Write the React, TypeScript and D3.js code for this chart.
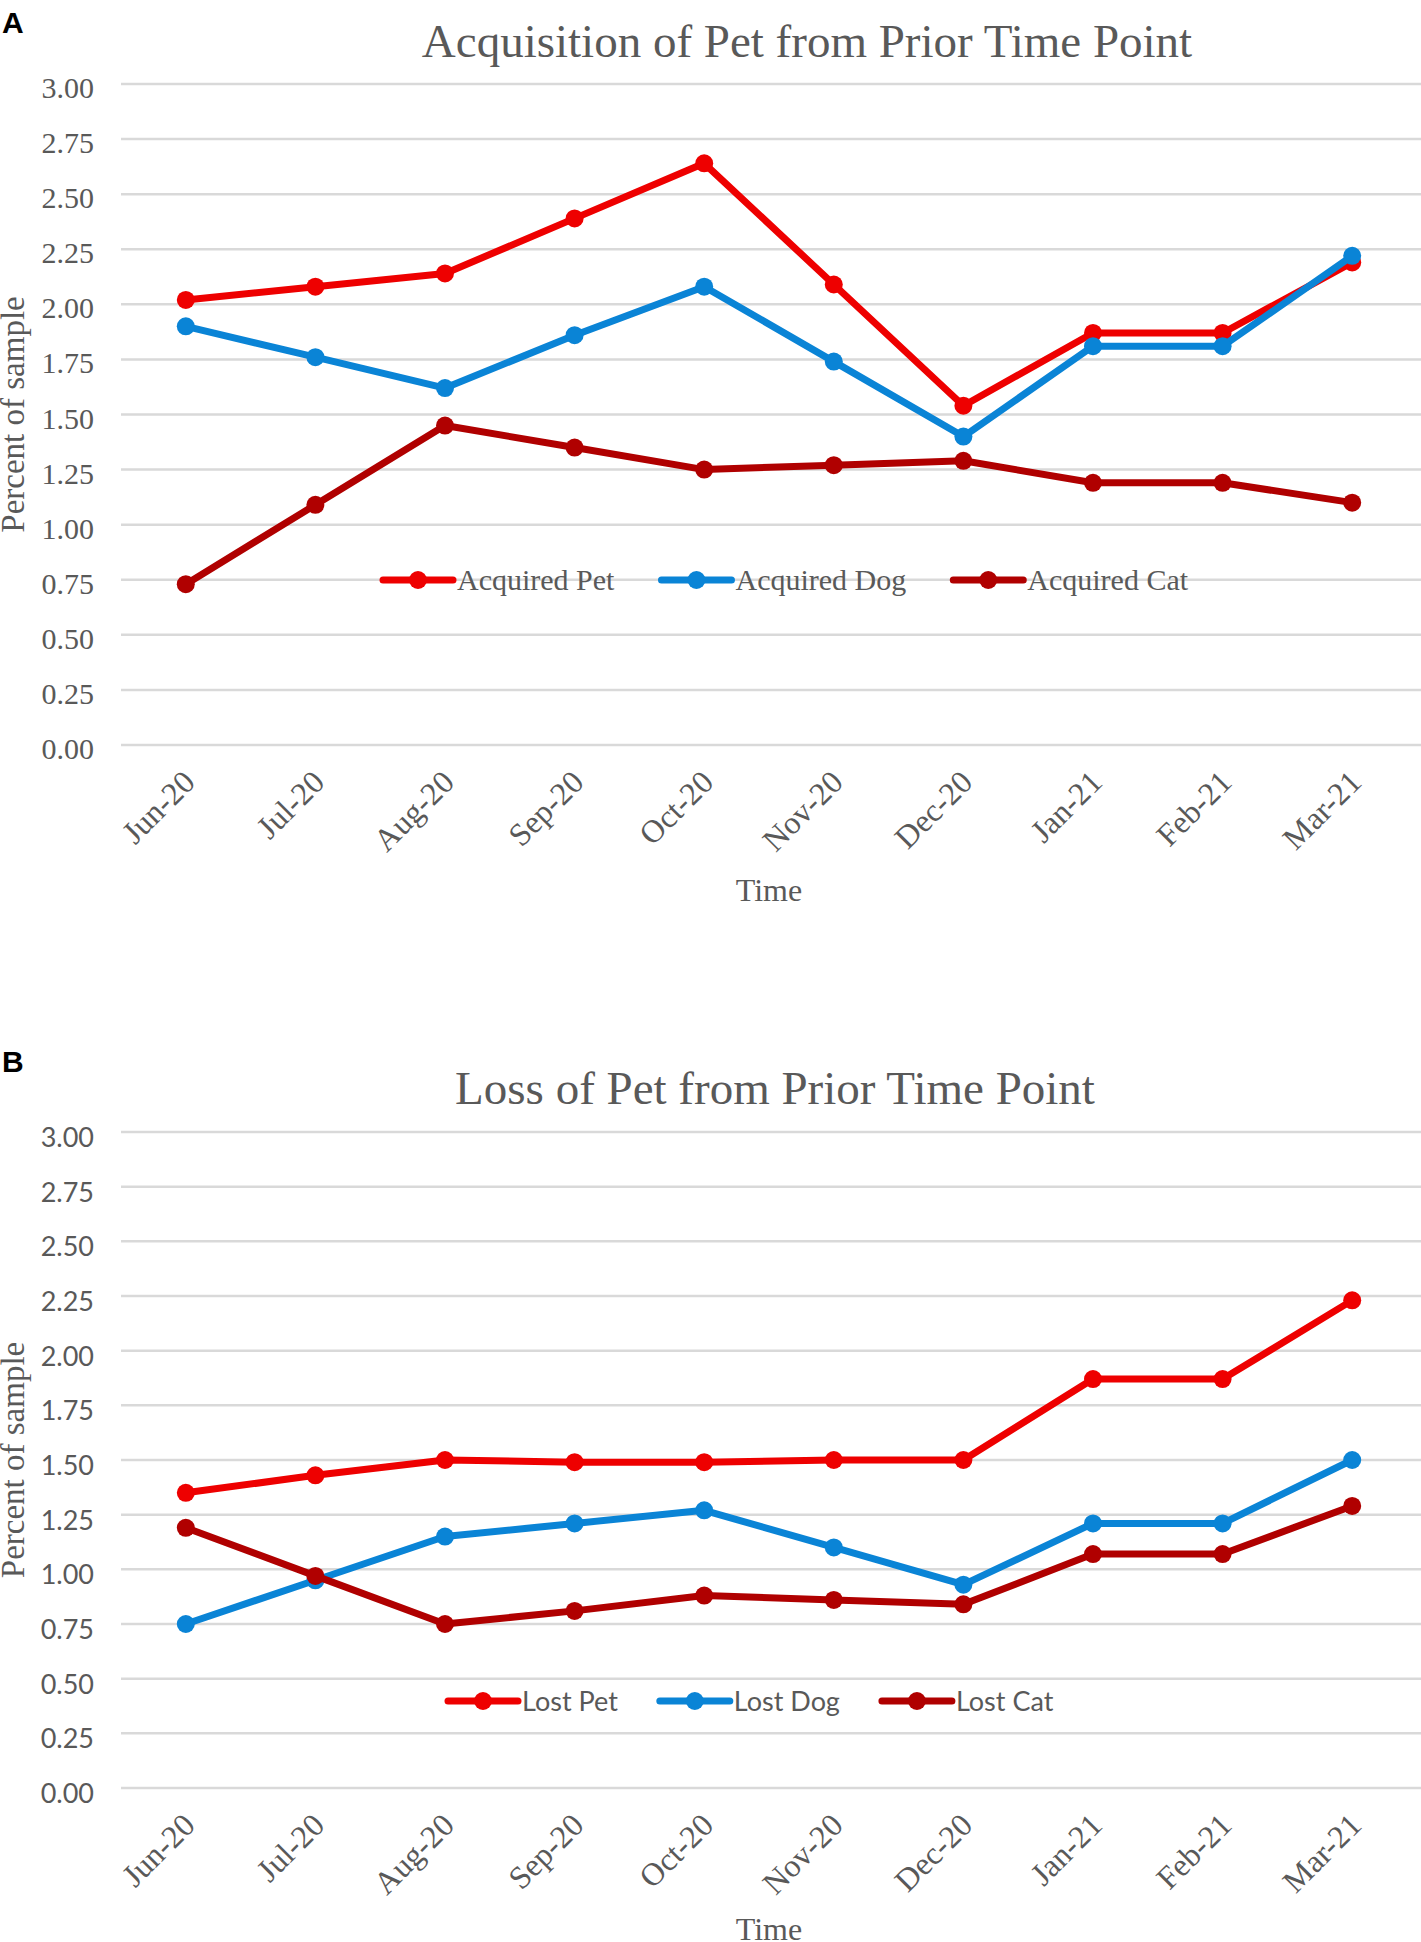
import { useEffect, useRef } from "react";
import * as d3 from "d3";

// months on the x axis, same for both panels
const months = [
  "Jun-20",
  "Jul-20",
  "Aug-20",
  "Sep-20",
  "Oct-20",
  "Nov-20",
  "Dec-20",
  "Jan-21",
  "Feb-21",
  "Mar-21",
];

const yTicks = [0, 0.25, 0.5, 0.75, 1, 1.25, 1.5, 1.75, 2, 2.25, 2.5, 2.75, 3];

// panel A
const acquiredPet = [2.02, 2.08, 2.14, 2.39, 2.64, 2.09, 1.54, 1.87, 1.87, 2.19];
const acquiredDog = [1.9, 1.76, 1.62, 1.86, 2.08, 1.74, 1.4, 1.81, 1.81, 2.22];
const acquiredCat = [0.73, 1.09, 1.45, 1.35, 1.25, 1.27, 1.29, 1.19, 1.19, 1.1];

// panel B
const lostPet = [1.35, 1.43, 1.5, 1.49, 1.49, 1.5, 1.5, 1.87, 1.87, 2.23];
const lostDog = [0.75, 0.95, 1.15, 1.21, 1.27, 1.1, 0.93, 1.21, 1.21, 1.5];
const lostCat = [1.19, 0.97, 0.75, 0.81, 0.88, 0.86, 0.84, 1.07, 1.07, 1.29];

const RED = "#ee0000";
const BLUE = "#0a84d6";
const DARK_RED = "#b00000";
const TEXT = "#595959";
const GRID = "#d9d9d9";

const SERIF = "'Liberation Serif', 'Times New Roman', serif";
const SANS = "Lato, 'Noto Sans', sans-serif";

const WIDTH = 1421;
const HEIGHT = 1942;

interface Series {
  name: string;
  color: string;
  values: number[];
}

interface Panel {
  letter: string;
  letterY: number;
  title: string;
  titleX: number;
  titleY: number;
  yTop: number;
  yBottom: number;
  tickFont: string;
  tickSize: number;
  tickDy: number;
  timeDy: number;
  legendX: number;
  legendY: number;
  legendGap: number;
  series: Series[];
}

const panels: Panel[] = [
  {
    letter: "A",
    letterY: 33,
    title: "Acquisition of Pet from Prior Time Point",
    titleX: 807,
    titleY: 57,
    yTop: 84,
    yBottom: 745,
    tickFont: SERIF,
    tickSize: 30,
    tickDy: 14,
    timeDy: 156,
    legendX: 383,
    legendY: 580,
    legendGap: 47,
    series: [
      { name: "Acquired Pet", color: RED, values: acquiredPet },
      { name: "Acquired Dog", color: BLUE, values: acquiredDog },
      { name: "Acquired Cat", color: DARK_RED, values: acquiredCat },
    ],
  },
  {
    letter: "B",
    letterY: 1072,
    title: "Loss of Pet from Prior Time Point",
    titleX: 775,
    titleY: 1104,
    yTop: 1132,
    yBottom: 1788,
    tickFont: SANS,
    tickSize: 27,
    tickDy: 15,
    timeDy: 152,
    legendX: 448,
    legendY: 1701,
    legendGap: 42,
    series: [
      { name: "Lost Pet", color: RED, values: lostPet },
      { name: "Lost Dog", color: BLUE, values: lostDog },
      { name: "Lost Cat", color: DARK_RED, values: lostCat },
    ],
  },
];

const PetCharts = () => {
  const svgRef = useRef<SVGSVGElement | null>(null);

  useEffect(() => {
    const svg = d3.select(svgRef.current);
    svg.selectAll("*").remove();

    const left = 121;
    const right = WIDTH;

    const x = d3
      .scalePoint<string>()
      .domain(months)
      .range([left, 1417])
      .padding(0.5);

    panels.forEach((p) => {
      const g = svg.append("g");
      const y = d3.scaleLinear().domain([0, 3]).range([p.yBottom, p.yTop]);

      g.append("text")
        .attr("x", 2)
        .attr("y", p.letterY)
        .attr("font-family", "'Liberation Sans', Arial, sans-serif")
        .attr("font-weight", "bold")
        .attr("font-size", 30)
        .attr("fill", "#000")
        .text(p.letter);

      g.append("text")
        .attr("x", p.titleX)
        .attr("y", p.titleY)
        .attr("text-anchor", "middle")
        .attr("font-family", SERIF)
        .attr("font-size", 47)
        .attr("fill", TEXT)
        .text(p.title);

      // gridlines + y tick labels
      g.selectAll(".grid")
        .data(yTicks)
        .join("line")
        .attr("x1", left)
        .attr("x2", right)
        .attr("y1", (d) => y(d))
        .attr("y2", (d) => y(d))
        .attr("stroke", GRID)
        .attr("stroke-width", 2.5);

      g.selectAll(".ytick")
        .data(yTicks)
        .join("text")
        .attr("x", 94)
        .attr("y", (d) => y(d) + p.tickDy)
        .attr("text-anchor", "end")
        .attr("font-family", p.tickFont)
        .attr("font-size", p.tickSize)
        .attr("fill", TEXT)
        .text((d) => d3.format(".2f")(d));

      // rotated month labels
      g.selectAll(".xtick")
        .data(months)
        .join("text")
        .attr(
          "transform",
          (d) => `translate(${(x(d) ?? 0) + 11},${p.yBottom + 39}) rotate(-45)`
        )
        .attr("text-anchor", "end")
        .attr("font-family", SERIF)
        .attr("font-size", 32)
        .attr("fill", TEXT)
        .text((d) => d);

      g.append("text")
        .attr("x", 769)
        .attr("y", p.yBottom + p.timeDy)
        .attr("text-anchor", "middle")
        .attr("font-family", SERIF)
        .attr("font-size", 32)
        .attr("fill", TEXT)
        .text("Time");

      g.append("text")
        .attr(
          "transform",
          `translate(24,${(p.yTop + p.yBottom) / 2}) rotate(-90)`
        )
        .attr("text-anchor", "middle")
        .attr("font-family", SERIF)
        .attr("font-size", 33)
        .attr("fill", TEXT)
        .text("Percent of sample");

      const line = d3
        .line<number>()
        .x((_, i) => x(months[i]) ?? 0)
        .y((d) => y(d));

      p.series.forEach((s) => {
        g.append("path")
          .datum(s.values)
          .attr("fill", "none")
          .attr("stroke", s.color)
          .attr("stroke-width", 7)
          .attr("stroke-linejoin", "round")
          .attr("d", line);

        g.selectAll(null)
          .data(s.values)
          .join("circle")
          .attr("cx", (_, i) => x(months[i]) ?? 0)
          .attr("cy", (d) => y(d))
          .attr("r", 9)
          .attr("fill", s.color);
      });

      // legend, laid out from the measured label widths
      let lx = p.legendX;
      p.series.forEach((s) => {
        const item = g.append("g");
        item
          .append("line")
          .attr("x1", lx)
          .attr("x2", lx + 70)
          .attr("y1", p.legendY)
          .attr("y2", p.legendY)
          .attr("stroke", s.color)
          .attr("stroke-width", 7)
          .attr("stroke-linecap", "round");
        item
          .append("circle")
          .attr("cx", lx + 35)
          .attr("cy", p.legendY)
          .attr("r", 9)
          .attr("fill", s.color);
        const label = item
          .append("text")
          .attr("x", lx + 74)
          .attr("y", p.legendY + 10)
          .attr("font-family", p.tickFont)
          .attr("font-size", p.tickSize)
          .attr("fill", TEXT)
          .text(s.name);
        const w = (label.node() as SVGTextElement).getComputedTextLength();
        lx += 74 + w + p.legendGap;
      });
    });
  }, []);

  return (
    <svg
      ref={svgRef}
      role="img"
      aria-label="Pet acquisition and loss charts"
      width={WIDTH}
      height={HEIGHT}
      viewBox={`0 0 ${WIDTH} ${HEIGHT}`}
      style={{ position: "absolute", left: 0, top: 0, background: "#fff" }}
    />
  );
};

export default function App() {
  return <PetCharts />;
}
